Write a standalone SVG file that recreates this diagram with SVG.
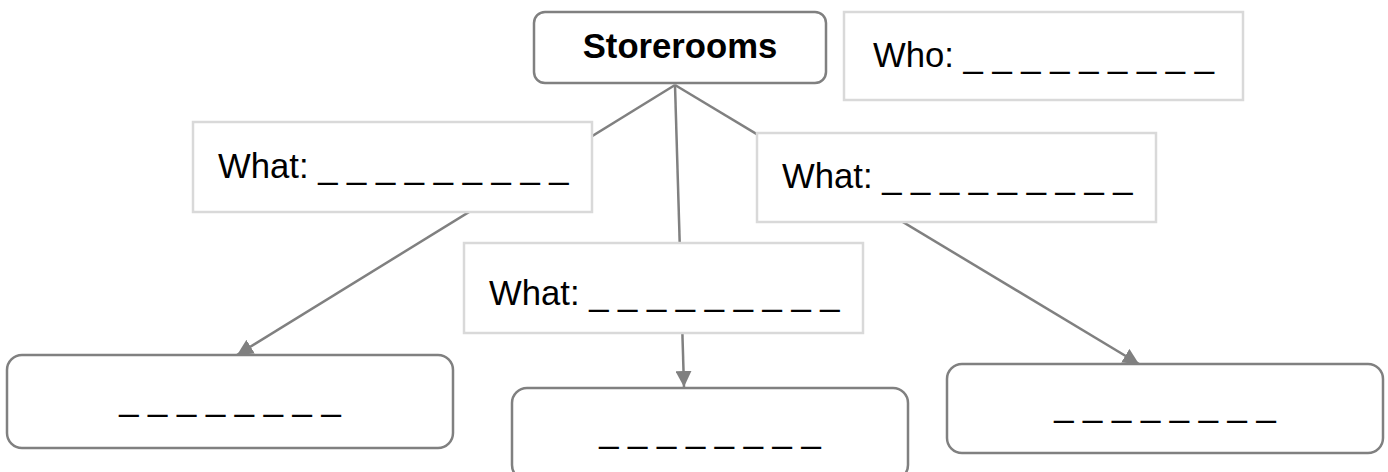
<svg xmlns="http://www.w3.org/2000/svg" width="1388" height="472" viewBox="0 0 1388 472">
<defs>
<style>
.t{font-family:"Liberation Sans",Arial,sans-serif;font-size:34.67px;fill:#000}
.b{font-weight:bold}
.rnd{fill:#fff;stroke:#808080;stroke-width:2.5}
.lbl{fill:#fff;stroke:#d9d9d9;stroke-width:2.5}
.c{stroke:#808080;stroke-width:2.5;fill:none}
</style>
<marker id="ah" markerUnits="userSpaceOnUse" markerWidth="16" markerHeight="16" refX="16" refY="8" orient="auto">
<path d="M0,0 L16,8 L0,16 z" fill="#808080"/>
</marker>
</defs>
<rect width="1388" height="472" fill="#fff"/>
<g id="connectors">
<line class="c" x1="675" y1="85" x2="237" y2="355" marker-end="url(#ah)"/>
<line class="c" x1="675" y1="85" x2="684" y2="387" marker-end="url(#ah)"/>
<line class="c" x1="675" y1="85" x2="1139" y2="364" marker-end="url(#ah)"/>
</g>
<g id="storerooms">
<rect class="rnd" x="534" y="12" width="292" height="71" rx="11"/>
<text class="t b" x="680" y="58" text-anchor="middle">Storerooms</text>
</g>
<g id="who">
<rect class="lbl" x="844" y="12" width="399" height="88"/>
<text class="t" x="873" y="67">Who: _ _ _ _ _ _ _ _ _</text>
</g>
<g id="what-left">
<rect class="lbl" x="193" y="122" width="399" height="90"/>
<text class="t" x="218" y="178">What: _ _ _ _ _ _ _ _ _</text>
</g>
<g id="what-middle">
<rect class="lbl" x="464" y="243" width="399" height="90"/>
<text class="t" x="489" y="305">What: _ _ _ _ _ _ _ _ _</text>
</g>
<g id="what-right">
<rect class="lbl" x="757" y="133" width="399" height="89"/>
<text class="t" x="782" y="188">What: _ _ _ _ _ _ _ _ _</text>
</g>
<g id="result-left">
<rect class="rnd" x="7" y="355" width="446" height="93" rx="15"/>
<text class="t" x="230" y="410" text-anchor="middle">_ _ _ _ _ _ _ _</text>
</g>
<g id="result-middle">
<rect class="rnd" x="512" y="388" width="396" height="92" rx="15"/>
<text class="t" x="710" y="442" text-anchor="middle">_ _ _ _ _ _ _ _</text>
</g>
<g id="result-right">
<rect class="rnd" x="947" y="364" width="436" height="89" rx="15"/>
<text class="t" x="1165" y="416" text-anchor="middle">_ _ _ _ _ _ _ _</text>
</g>
</svg>
